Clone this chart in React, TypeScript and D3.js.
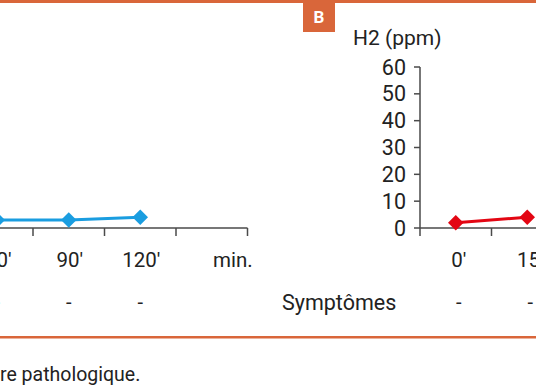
import React from 'react'
import * as d3 from 'd3'

// left panel (mostly cropped away)
const leftCats = ["0'", "15'", "30'", "60'", "90'", "120'", '']
const leftShown = ["60'", "90'", "120'"]
const leftValues = [3, 3, 4]
const leftSymptoms = ['-', '-', '-']

// right panel (B)
const rightCats = ["0'", "15'", "30'", "60'", "90'", "120'", '']
const rightShown = ["0'", "15'"]
const rightValues = [2, 4]
const rightSymptoms = ['-', '-']

const yTicks = [0, 10, 20, 30, 40, 50, 60]

const W = 536
const H = 386
const orange = '#d9663a'
const axisColor = '#4a4a4a'
const textColor = '#222'
const font = 'Roboto, sans-serif'

const yScale = d3.scaleLinear().domain([0, 60]).range([228, 67])
const band = 71.5

const xLeft = d3.scaleBand().domain(leftCats).range([176 - band * 6, 176 + band]).padding(0)
const xRight = d3.scaleBand().domain(rightCats).range([420, 420 + band * 7]).padding(0)

const diamond = d3.symbol(d3.symbolSquare, 120)()

function Series({ x, cats, values, color }) {
  const cx = (c) => x(c) + x.bandwidth() / 2
  const line = d3.line().x((d, i) => cx(cats[i])).y(d => yScale(d))
  return (
    <g>
      <path d={line(values)} fill="none" stroke={color} strokeWidth={3} />
      {values.map((v, i) => (
        <path key={i} d={diamond} fill={color}
          transform={`translate(${cx(cats[i])},${yScale(v)}) rotate(45)`} />
      ))}
    </g>
  )
}

function XAxis({ x, cats }) {
  const [x0, x1] = x.range()
  const ticks = cats.map(c => x(c)).concat([x1])
  return (
    <g>
      <line x1={x0} x2={x1} y1={228} y2={228} stroke={axisColor} strokeWidth={1.5} />
      {ticks.map((t, i) => (
        <line key={i} x1={t} x2={t} y1={228} y2={236} stroke={axisColor} strokeWidth={1.5} />
      ))}
    </g>
  )
}

export default function App() {
  const cxL = (c) => xLeft(c) + xLeft.bandwidth() / 2
  const cxR = (c) => xRight(c) + xRight.bandwidth() / 2
  return (
    <svg width={W} height={H} style={{ position: 'absolute', left: 0, top: 0, background: '#fff' }}
      fontFamily={font}>
      <rect x={0} y={0} width={W} height={H} fill="#fff" />
      {/* frame lines */}
      <rect x={0} y={0} width={W} height={3} fill={orange} />
      <rect x={0} y={336} width={W} height={2.5} fill={orange} />

      {/* badge */}
      <rect x={303} y={0} width={32} height={32} fill={orange} />
      <text x={319} y={23} textAnchor="middle" fill="#fff" fontSize={17} fontWeight="bold">B</text>

      {/* left panel */}
      <XAxis x={xLeft} cats={leftCats} />
      <Series x={xLeft} cats={leftShown} values={leftValues} color="#1a9de0" />
      {leftShown.map(c => (
        <text key={c} x={cxL(c) + 1} y={267} textAnchor="middle" fontSize={20.5} fill={textColor}>{c}</text>
      ))}
      <text x={213} y={267} fontSize={20.5} fill={textColor}>min.</text>
      {leftShown.map((c, i) => (
        <text key={c} x={cxL(c)} y={309} textAnchor="middle" fontSize={20} fill={textColor}>{leftSymptoms[i]}</text>
      ))}

      {/* right panel */}
      <text x={353} y={45} fontSize={21} fill={textColor}>H2 (ppm)</text>
      <line x1={420} x2={420} y1={yScale(60)} y2={yScale(0)} stroke={axisColor} strokeWidth={1.5} />
      {yTicks.map(t => (
        <g key={t}>
          <line x1={414} x2={420} y1={yScale(t)} y2={yScale(t)} stroke={axisColor} strokeWidth={1.5} />
          <text x={406} y={yScale(t) + 7.5} textAnchor="end" fontSize={21.5} fill={textColor}>{t}</text>
        </g>
      ))}
      <XAxis x={xRight} cats={rightCats} />
      <Series x={xRight} cats={rightShown} values={rightValues} color="#e30613" />
      {rightShown.map(c => (
        <text key={c} x={cxR(c) + 3} y={267} textAnchor="middle" fontSize={20.5} fill={textColor}>{c}</text>
      ))}
      <text x={282} y={310} fontSize={21.5} fill={textColor}>Symptômes</text>
      {rightShown.map((c, i) => (
        <text key={c} x={cxR(c) + 3} y={309} textAnchor="middle" fontSize={20} fill={textColor}>{rightSymptoms[i]}</text>
      ))}

      {/* caption fragment */}
      <text x={0} y={381} fontSize={19.5} fill={textColor}>re pathologique.</text>
    </svg>
  )
}
